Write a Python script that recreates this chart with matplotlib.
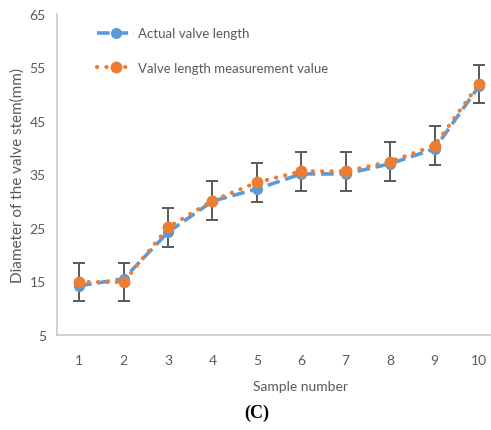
import matplotlib.pyplot as plt

# data
samples = [1, 2, 3, 4, 5, 6, 7, 8, 9, 10]
actual = [14.2, 15.5, 24.2, 30.0, 32.3, 35.1, 35.1, 37.0, 39.8, 51.5]
measured = [14.9, 14.9, 25.1, 30.1, 33.5, 35.6, 35.6, 37.4, 40.4, 51.9]
err = [3.6, 3.6, 3.6, 3.6, 3.6, 3.6, 3.6, 3.6, 3.6, 3.6]

plt.rcParams['font.family'] = ['Lato', 'DejaVu Sans']
gray = '#595959'

fig = plt.figure(figsize=(4.91, 4.31), dpi=100)
ax = fig.add_axes([0.116, 0.2204, 0.884, 0.745])

ax.errorbar(samples, measured, yerr=err, fmt='none', ecolor=gray,
            elinewidth=1.4, capsize=4, capthick=1.4, zorder=1)
ax.plot(samples, actual, color='#5B9BD5', linestyle=(0, (3.5, 1.6)), linewidth=2.6,
        marker='o', markersize=7, label='Actual valve length', zorder=2)
ax.plot(samples, measured, color='#ED7D31', linestyle=(0, (0.05, 2.2)), linewidth=3,
        dash_capstyle='round', marker='o', markersize=7.5,
        label='Valve length measurement value', zorder=3)

ax.set_xlim(0.5, 10.27)
ax.set_ylim(5, 65)
ax.set_yticks([5, 15, 25, 35, 45, 55, 65])
ax.set_xticks(samples)
ax.tick_params(length=0, labelsize=10, colors=gray)
ax.tick_params(axis='x', pad=14)
ax.tick_params(axis='y', pad=8)
for s in ['top', 'right']:
    ax.spines[s].set_visible(False)
for s in ['left', 'bottom']:
    ax.spines[s].set_color('#C8C8C8')
    ax.spines[s].set_linewidth(1.2)

ax.set_xlabel('Sample number', fontsize=10, color=gray)
ax.xaxis.set_label_coords(0.56, -0.14)
ax.set_ylabel('Diameter of the valve stem(mm)', fontsize=11, color=gray)
ax.yaxis.set_label_coords(-0.075, 0.5)

leg = ax.legend(loc='upper left', bbox_to_anchor=(0.065, 0.995), frameon=False,
                fontsize=9.5, handlelength=2.8, labelspacing=1.7, handletextpad=0.3)
for t in leg.get_texts():
    t.set_color(gray)

fig.text(0.523, 0.04, '(C)', fontsize=13, fontweight='bold',
         family='Liberation Serif', ha='center', va='center')

fig.savefig('out.png', dpi=100)
